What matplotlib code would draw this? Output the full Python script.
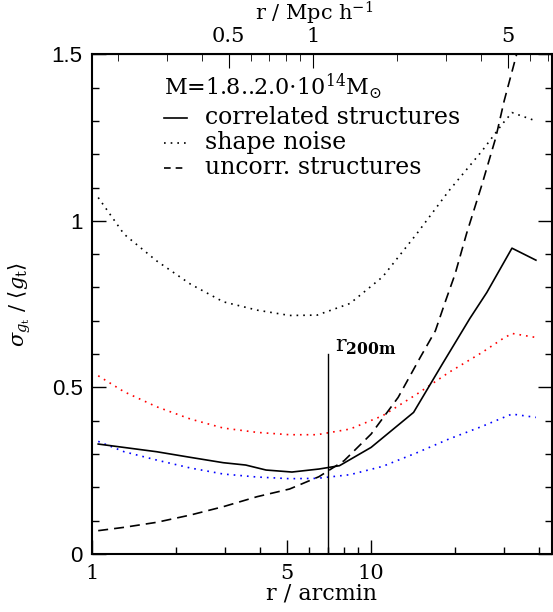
import numpy as np
import matplotlib
matplotlib.use('Agg')
import matplotlib.pyplot as plt
from matplotlib.ticker import FixedLocator, NullFormatter, FixedFormatter

# radii (arcmin) for the noise curves
r_noise = [1.05, 1.3, 1.7, 2.25, 2.95, 3.9, 5.1, 6.4, 8.4, 11.0, 14.6, 19.0, 25.0, 29.5, 32.0, 39.0]
shape_black = [1.07, 0.96, 0.88, 0.81, 0.757, 0.732, 0.716, 0.717, 0.752, 0.832, 0.962, 1.09, 1.21, 1.29, 1.325, 1.30]
shape_red = [0.535, 0.487, 0.442, 0.405, 0.378, 0.365, 0.358, 0.358, 0.375, 0.415, 0.48, 0.545, 0.605, 0.645, 0.662, 0.65]
shape_blue = [0.338, 0.307, 0.282, 0.258, 0.240, 0.231, 0.226, 0.227, 0.238, 0.263, 0.304, 0.345, 0.383, 0.408, 0.42, 0.41]

r_corr = [1.05, 1.7, 2.25, 2.95, 3.55, 4.2, 5.2, 6.5, 7.7, 10.0, 14.2, 18.0, 22.6, 26.0, 32.0, 39.0]
corr = [0.33, 0.307, 0.29, 0.274, 0.267, 0.252, 0.246, 0.255, 0.265, 0.32, 0.425, 0.57, 0.707, 0.785, 0.918, 0.882]

r_unc = [1.05, 1.3, 1.7, 2.25, 2.95, 3.9, 5.1, 6.5, 8.0, 10.0, 12.5, 15.0, 17.0, 18.5, 20.0, 22.0, 25.0, 28.0, 30.0, 34.0]
uncorr = [0.07, 0.08, 0.095, 0.117, 0.142, 0.172, 0.195, 0.232, 0.28, 0.36, 0.47, 0.59, 0.67, 0.76, 0.84, 0.962, 1.11, 1.25, 1.36, 1.53]

r200m = 7.0
arcmin_per_mpc = 6.17

plt.rcParams['font.family'] = 'DejaVu Serif'
plt.rcParams['mathtext.fontset'] = 'dejavuserif'

fig = plt.figure(figsize=(5.53, 6.12), dpi=100)
ax = fig.add_axes([0.1669, 0.0948, 0.8311, 0.8165])

dot = (0, (1, 3))
ax.plot(r_noise, shape_black, color='black', lw=1.2, linestyle=dot)
ax.plot(r_noise, shape_red, color='red', lw=1.2, linestyle=dot)
ax.plot(r_noise, shape_blue, color='blue', lw=1.2, linestyle=dot)
ax.plot(r_corr, corr, color='black', lw=1.2)
ax.plot(r_unc, uncorr, color='black', lw=1.2, linestyle=(0, (6, 3.6)))

ax.plot([r200m, r200m], [0, 0.6], color='black', lw=1.0)
ax.text(r200m * 1.06, 0.59, r'r$_{\mathbf{200m}}$', fontsize=16, ha='left', va='bottom')

ax.set_xscale('log')
ax.set_xlim(1, 44.5)
ax.set_ylim(0, 1.5)

ax.xaxis.set_major_locator(FixedLocator([1, 5, 10]))
ax.xaxis.set_major_formatter(FixedFormatter(['1', '5', '10']))
ax.xaxis.set_minor_locator(FixedLocator([2, 3, 4, 6, 7, 8, 9, 20, 30, 40]))
ax.xaxis.set_minor_formatter(NullFormatter())
ax.yaxis.set_major_locator(FixedLocator([0, 0.5, 1, 1.5]))
ax.yaxis.set_major_formatter(FixedFormatter(['0', '0.5', '1', '1.5']))
ax.yaxis.set_minor_locator(FixedLocator(np.arange(0.1, 1.5, 0.1)))

ax.tick_params(which='both', direction='in', top=False, right=True, labelsize=15)
ax.tick_params(which='major', length=10, width=1.0, pad=7)
ax.tick_params(which='minor', length=5, width=1.0)
for lab in ax.get_yticklabels():
    lab.set_family('Liberation Sans')
    lab.set_fontsize(16)
for sp in ax.spines.values():
    sp.set_linewidth(1.5)

ax.set_ylabel(r'$\sigma_{g_{\rm t}}$ / $\langle g_{\rm t}\rangle$', fontsize=15)
ax.yaxis.set_label_coords(-0.128, 0.5)
fig.text(322 / 553, 1 - 593 / 612, 'r / arcmin', fontsize=16, ha='center', va='center')

sec = ax.secondary_xaxis('top', functions=(lambda x: x / arcmin_per_mpc, lambda x: x * arcmin_per_mpc))
sec.xaxis.set_major_locator(FixedLocator([0.5, 1, 5]))
sec.xaxis.set_major_formatter(FixedFormatter(['0.5', '1', '5']))
sec.xaxis.set_minor_locator(FixedLocator([0.2, 0.3, 0.4, 0.6, 0.7, 0.8, 0.9, 2, 3, 4, 6, 7]))
sec.xaxis.set_minor_formatter(NullFormatter())
sec.tick_params(which='both', direction='in', labelsize=15)
sec.tick_params(which='major', length=10, pad=6)
sec.tick_params(which='minor', length=5)
fig.text(314 / 553, 1 - 13 / 612, r'r / Mpc h$^{-1}$', fontsize=15, ha='center', va='center')

# legend drawn by hand in axes coordinates
ax.text(0.155, 0.935, r'M=1.8..2.0$\cdot$10$^{14}$M$_{\odot}$', transform=ax.transAxes,
        fontsize=16, va='center', ha='left')
labels = ['correlated structures', 'shape noise', 'uncorr. structures']
styles = ['-', dot, (0, (4, 3))]
for i, (lab, ls) in enumerate(zip(labels, styles)):
    yy = 0.873 - i * 0.05
    ax.plot([0.155, 0.205], [yy, yy], transform=ax.transAxes, color='black', lw=1.2, linestyle=ls)
    ax.text(0.245, yy, lab, transform=ax.transAxes, fontsize=17, va='center', ha='left')

fig.savefig('out.png', dpi=100)
